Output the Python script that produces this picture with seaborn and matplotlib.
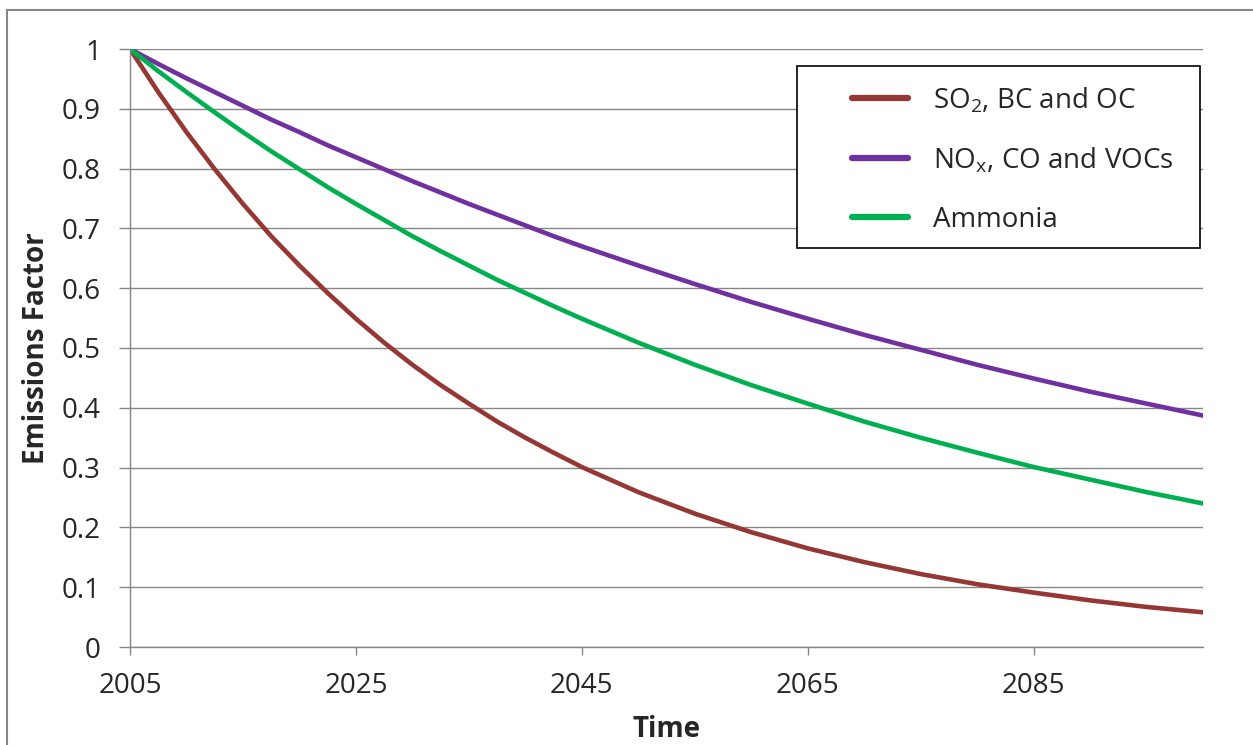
import pandas as pd
import matplotlib.pyplot as plt
import seaborn as sns
from matplotlib.patches import Rectangle

# values (denser where the curves bend most)
years = [2005, 2007.5, 2010, 2012.5, 2015, 2017.5, 2020, 2022.5, 2025, 2027.5,
         2030, 2032.5, 2035, 2037.5, 2040, 2042.5, 2045, 2050, 2055, 2060,
         2065, 2070, 2075, 2080, 2085, 2090, 2095, 2100]
so2_bc_oc = [1.0, 0.928, 0.861, 0.799, 0.741, 0.687, 0.638, 0.592, 0.549, 0.509,
             0.472, 0.438, 0.407, 0.377, 0.350, 0.325, 0.301, 0.259, 0.223, 0.192,
             0.165, 0.142, 0.122, 0.105, 0.091, 0.078, 0.067, 0.058]
nox_co_voc = [1.0, 0.975, 0.951, 0.928, 0.905, 0.882, 0.861, 0.839, 0.819, 0.799,
              0.779, 0.760, 0.741, 0.723, 0.705, 0.687, 0.670, 0.638, 0.607, 0.577,
              0.549, 0.522, 0.497, 0.472, 0.449, 0.427, 0.407, 0.387]
ammonia = [1.0, 0.963, 0.928, 0.894, 0.861, 0.829, 0.799, 0.769, 0.741, 0.714,
           0.687, 0.662, 0.638, 0.614, 0.592, 0.570, 0.549, 0.509, 0.472, 0.438,
           0.407, 0.377, 0.350, 0.325, 0.301, 0.280, 0.259, 0.240]

series_names = ["SO$_2$, BC and OC", "NO$_\\mathregular{x}$, CO and VOCs", "Ammonia"]
colors = ["#953735", "#7030A0", "#00B050"]
xticks = [2005, 2025, 2045, 2065, 2085]
yticks = [0, 0.1, 0.2, 0.3, 0.4, 0.5, 0.6, 0.7, 0.8, 0.9, 1]
ytick_labels = ["0", "0.1", "0.2", "0.3", "0.4", "0.5", "0.6", "0.7", "0.8", "0.9", "1"]

df = pd.DataFrame({
    "Time": years * 3,
    "Emissions Factor": so2_bc_oc + nox_co_voc + ammonia,
    "Series": [series_names[0]] * len(years) + [series_names[1]] * len(years)
              + [series_names[2]] * len(years),
})

sns.set_theme(style="white")
plt.rcParams["font.family"] = ["Open Sans", "DejaVu Sans"]
plt.rcParams["mathtext.fontset"] = "custom"
plt.rcParams["mathtext.rm"] = "Open Sans"

grid_col = "#868686"
fs = 20

fig = plt.figure(figsize=(12.53, 7.45), dpi=100)
ax = fig.add_axes([130 / 1253, 1 - 647 / 745, 1073 / 1253, 598 / 745])

sns.lineplot(data=df, x="Time", y="Emissions Factor", hue="Series",
             palette=colors, linewidth=3.3, ax=ax)

ax.set_xlim(2005, 2100)
ax.set_ylim(0, 1)
ax.set_xticks(xticks)
ax.set_yticks(yticks)
ax.set_yticklabels(ytick_labels)
ax.yaxis.grid(True, color=grid_col, linewidth=1.0)
ax.set_axisbelow(True)
for s in ["top", "right"]:
    ax.spines[s].set_visible(False)
for s in ["left", "bottom"]:
    ax.spines[s].set_color(grid_col)
    ax.spines[s].set_linewidth(1.0)
ax.tick_params(axis="y", direction="out", length=8, width=1.0, color=grid_col,
               pad=13, labelsize=fs, left=True)
ax.tick_params(axis="x", direction="out", length=6, width=1.0, color=grid_col,
               pad=12, labelsize=fs, bottom=True)

ax.set_xlabel("Time", fontsize=fs, fontweight="bold", labelpad=11)
ax.set_ylabel("Emissions Factor", fontsize=fs, fontweight="bold", labelpad=8)

# legend box (white, covers gridlines) drawn separately for Excel-like padding
ax.add_patch(Rectangle((0.6216, 0.667), 0.3756, 0.3046, transform=ax.transAxes,
                       facecolor="white", edgecolor="black", linewidth=1.2,
                       zorder=4))
leg = ax.legend(loc="upper left", bbox_to_anchor=(0.6729, 0.9398), fontsize=fs,
                frameon=False, handlelength=2.0, handletextpad=0.9,
                labelspacing=1.1, borderpad=0, borderaxespad=0)
leg.set_zorder(5)
for line in leg.get_lines():
    line.set_linewidth(4.5)
    line.set_solid_capstyle("round")

# outer chart border
fig.patches.append(Rectangle((7 / 1253, -0.05), 1.1, 1 - 10 / 745 + 0.05,
                             transform=fig.transFigure, fill=False,
                             edgecolor=grid_col, linewidth=1.5))

fig.savefig("out.png", dpi=100)
